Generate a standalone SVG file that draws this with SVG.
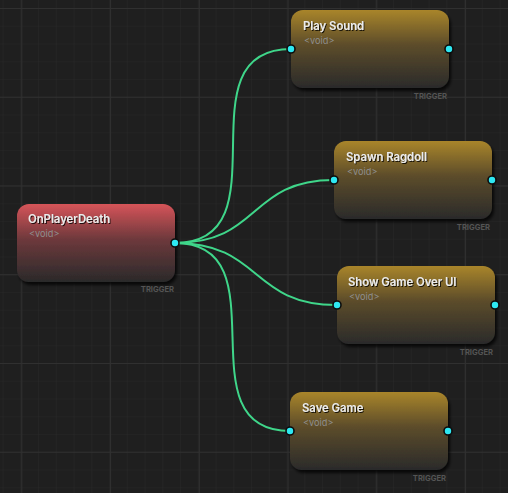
<svg xmlns="http://www.w3.org/2000/svg" width="508" height="493" viewBox="0 0 508 493">
<defs>
<pattern id="minor" x="3.55" y="8" width="17.75" height="17.75" patternUnits="userSpaceOnUse">
<path d="M17.75 0V17.75M0 0H17.75" fill="none" stroke="#282828" stroke-width="1"/>
</pattern>
<pattern id="major" x="21.3" y="8" width="88.75" height="88.75" patternUnits="userSpaceOnUse">
<path d="M0.5 0V88.75M0 0.5H88.75" fill="none" stroke="#303030" stroke-width="1"/>
</pattern>
<linearGradient id="gRed" x1="0" y1="0" x2="0" y2="1">
<stop offset="0" stop-color="#d65459"/>
<stop offset="0.45" stop-color="#6e393c"/>
<stop offset="1" stop-color="#2a2a2a"/>
</linearGradient>
<linearGradient id="gGold" x1="0" y1="0" x2="0" y2="1">
<stop offset="0" stop-color="#a9852b"/>
<stop offset="0.45" stop-color="#5c4c2a"/>
<stop offset="1" stop-color="#2a2a2a"/>
</linearGradient>
<filter id="shadow" x="-10%" y="-10%" width="130%" height="130%">
<feDropShadow dx="2" dy="3" stdDeviation="1.5" flood-color="#000" flood-opacity="0.75"/>
</filter>
<filter id="tshadow" x="-5%" y="-30%" width="115%" height="170%">
<feDropShadow dx="1" dy="1" stdDeviation="0.6" flood-color="#000" flood-opacity="0.8"/>
</filter>
</defs>
<style>
.title{font-family:Inter,"Liberation Sans",sans-serif;font-size:11.3px;font-weight:600;fill:#ececec}
.type{font-family:Inter,"Liberation Sans",sans-serif;font-size:9.2px;fill:#8e8e8e}
.tag{font-family:Inter,"Liberation Sans",sans-serif;font-size:7.6px;font-weight:700;fill:#545454;text-anchor:end}
.port{fill:#2ee8f2;stroke:#0d0d0d;stroke-width:1.6}
.edge{fill:none;stroke:#3fd68a;stroke-width:2}
</style>
<rect width="508" height="493" fill="#1f1f1f"/>
<rect width="508" height="493" fill="url(#minor)"/>
<rect width="508" height="493" fill="url(#major)"/>
<g id="connectors">
<path class="edge" d="M175 243C288 243 178 49 291 49"/>
<path class="edge" d="M175 243C261 243 248 180 334 180"/>
<path class="edge" d="M175 243C262 243 250 305 337 305"/>
<path class="edge" d="M175 243C285 243 180 431 290 431"/>
</g>
<g id="node-onplayerdeath">
<rect x="17" y="204" width="158" height="78" rx="12" fill="url(#gRed)" filter="url(#shadow)"/>
<text class="title" x="28" y="223" filter="url(#tshadow)">OnPlayerDeath</text>
<text class="type" x="29" y="237">&lt;void&gt;</text>
<text class="tag" x="174" y="292">TRIGGER</text>
<circle class="port" cx="175" cy="243" r="4"/>
</g>
<g id="node-playsound">
<rect x="291" y="10" width="158" height="78" rx="12" fill="url(#gGold)" filter="url(#shadow)"/>
<text class="title" x="303" y="30" filter="url(#tshadow)">Play Sound</text>
<text class="type" x="304" y="44">&lt;void&gt;</text>
<text class="tag" x="447" y="99">TRIGGER</text>
<circle class="port" cx="291" cy="49" r="4"/>
<circle class="port" cx="449" cy="49" r="4"/>
</g>
<g id="node-spawnragdoll">
<rect x="334" y="141" width="158" height="78" rx="12" fill="url(#gGold)" filter="url(#shadow)"/>
<text class="title" x="346" y="161" filter="url(#tshadow)">Spawn Ragdoll</text>
<text class="type" x="347" y="175">&lt;void&gt;</text>
<text class="tag" x="490" y="230">TRIGGER</text>
<circle class="port" cx="334" cy="180" r="4"/>
<circle class="port" cx="492" cy="180" r="4"/>
</g>
<g id="node-showgameoverui">
<rect x="337" y="266" width="158" height="78" rx="12" fill="url(#gGold)" filter="url(#shadow)"/>
<text class="title" x="348" y="286" filter="url(#tshadow)">Show Game Over UI</text>
<text class="type" x="349" y="300">&lt;void&gt;</text>
<text class="tag" x="493" y="355">TRIGGER</text>
<circle class="port" cx="337" cy="305" r="4"/>
<circle class="port" cx="495" cy="305" r="4"/>
</g>
<g id="node-savegame">
<rect x="290" y="392" width="158" height="78" rx="12" fill="url(#gGold)" filter="url(#shadow)"/>
<text class="title" x="302" y="412" filter="url(#tshadow)">Save Game</text>
<text class="type" x="303" y="426">&lt;void&gt;</text>
<text class="tag" x="446" y="481">TRIGGER</text>
<circle class="port" cx="290" cy="431" r="4"/>
<circle class="port" cx="448" cy="431" r="4"/>
</g>
</svg>
